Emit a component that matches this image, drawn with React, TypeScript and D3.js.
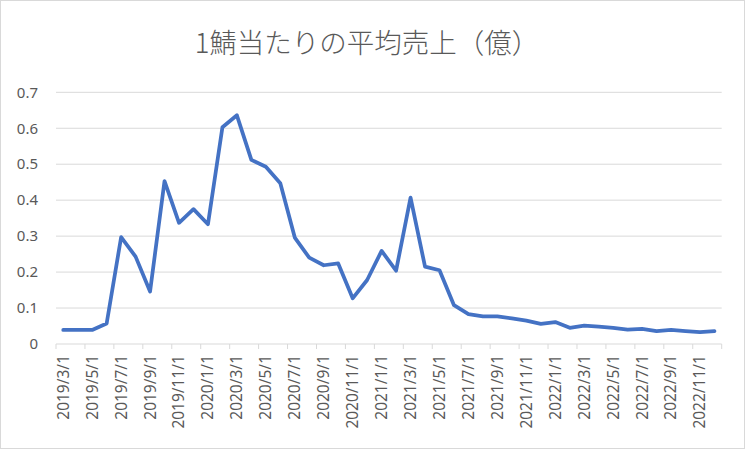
import React from "react";
import * as d3 from "d3";

const title = "1鯖当たりの平均売上（億）";

const months: string[] = (() => {
  const out: string[] = [];
  for (let y = 2019; y <= 2022; y++) {
    for (let m = 1; m <= 12; m++) {
      if (y === 2019 && m < 3) continue;
      out.push(`${y}/${m}/1`);
    }
  }
  return out;
})();

const values: number[] = [
  0.039, 0.039, 0.039, 0.057, 0.297, 0.243, 0.146, 0.453, 0.337, 0.375,
  0.333, 0.603, 0.636, 0.512, 0.493, 0.447, 0.296, 0.240, 0.219, 0.224,
  0.127, 0.178, 0.259, 0.204, 0.407, 0.215, 0.205, 0.108, 0.083, 0.077,
  0.077, 0.071, 0.065, 0.056, 0.061, 0.045, 0.051, 0.048, 0.045, 0.040,
  0.042, 0.036, 0.039, 0.036, 0.033, 0.036,
];

const yTicks = [0, 0.1, 0.2, 0.3, 0.4, 0.5, 0.6, 0.7];
const yTickLabels = ["0", "0.1", "0.2", "0.3", "0.4", "0.5", "0.6", "0.7"];

const W = 746;
const H = 450;
const left = 56;
const right = 721.7;
const top = 92.3;
const bottom = 344;

export default function App() {
  const x = d3.scaleBand<string>().domain(months).range([left, right]).paddingInner(0).paddingOuter(0);
  const y = d3.scaleLinear().domain([0, 0.7]).range([bottom, top]);
  const bw = x.bandwidth();
  const line = d3
    .line<number>()
    .x((_, i) => (x(months[i]) as number) + bw / 2)
    .y((d) => y(d));

  const tickIdx = d3.range(0, months.length + 1, 2);
  const labelIdx = d3.range(0, months.length, 2);
  const textColor = "#595959";
  const gridColor = "#d9d9d9";
  const tickFont = "'Noto Sans', sans-serif";

  return (
    <svg
      width={W}
      height={H}
      style={{ position: "absolute", left: 0, top: 0, background: "#fff" }}
    >
      <rect x={0.5} y={0.5} width={744} height={448} fill="#fff" stroke={gridColor} strokeWidth={1} />
      <text
        x={W / 2 - 6}
        y={53}
        textAnchor="middle"
        fontFamily="'Noto Sans CJK JP', sans-serif"
        fontSize={27.5}
        fontWeight={300}
        fill={textColor}
      >
        {title}
      </text>
      {yTicks.map((t, i) =>
        t === 0 ? null : (
          <line key={"g" + i} x1={left} x2={right} y1={y(t)} y2={y(t)} stroke={gridColor} strokeWidth={1} />
        )
      )}
      {yTicks.map((t, i) => (
        <text
          key={"yl" + i}
          x={38}
          y={y(t)}
          dy="0.35em"
          textAnchor="end"
          fontFamily={tickFont}
          fontSize={15}
          fill={textColor}
        >
          {yTickLabels[i]}
        </text>
      ))}
      <line x1={left} x2={right} y1={bottom} y2={bottom} stroke={gridColor} strokeWidth={1} />
      {tickIdx.map((k) => {
        const xx = k < months.length ? (x(months[k]) as number) : right;
        return <line key={"t" + k} x1={xx} x2={xx} y1={bottom} y2={bottom + 5} stroke={gridColor} strokeWidth={1} />;
      })}
      {labelIdx.map((k) => {
        const cx = (x(months[k]) as number) + bw / 2;
        return (
          <text
            key={"xl" + k}
            transform={`translate(${cx},${bottom + 11}) rotate(-90)`}
            textAnchor="end"
            dy="0.35em"
            fontFamily={tickFont}
            fontSize={15.5}
            fill={textColor}
          >
            {months[k]}
          </text>
        );
      })}
      <path
        d={line(values) || ""}
        fill="none"
        stroke="#4472C4"
        strokeWidth={3.75}
        strokeLinejoin="round"
        strokeLinecap="round"
      />
    </svg>
  );
}
